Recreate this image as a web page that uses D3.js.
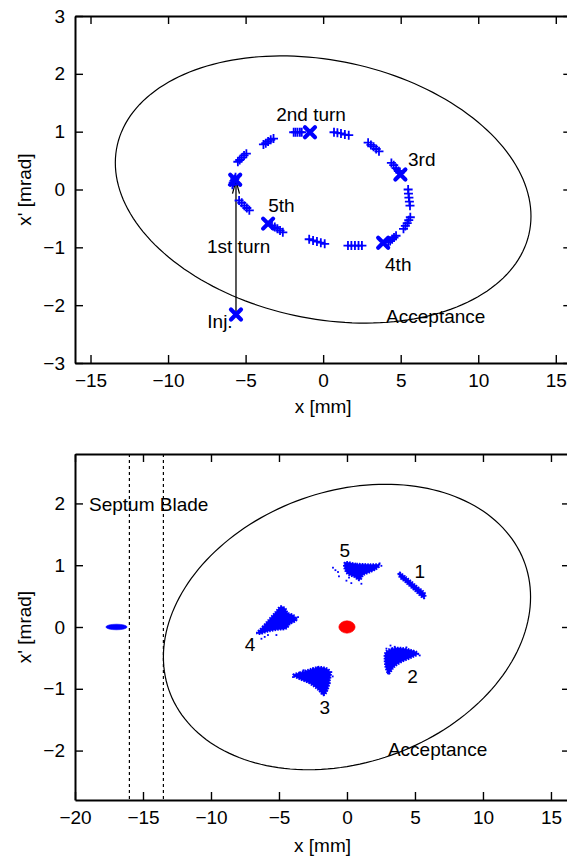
<!DOCTYPE html>
<html>
<head>
<meta charset="utf-8">
<script src="https://cdn.jsdelivr.net/npm/d3@7/dist/d3.min.js"></script>
<style>
  body { margin: 0; background: #fff; }
  svg { display: block; }
  text { font-family: "Liberation Sans", Arial, Helvetica, sans-serif; font-size: 19px; fill: #000; }
</style>
</head>
<body>
<svg id="chart" width="567" height="858"></svg>
<script>
// ---------- upper panel: beam centroid in phase space, injection and first turns ----------
const topXTicks = [-15, -10, -5, 0, 5, 10, 15];
const topYTicks = [-3, -2, -1, 0, 1, 2, 3];

// centroid at injection and at each turn (x in mm, x' in mrad)
const turnNames = ["Inj.", "1st turn", "2nd turn", "3rd", "4th", "5th"];
const turnX  = [-5.62, -5.67, -0.85, 4.98, 3.87, -3.55];
const turnXp = [-2.16,  0.17,  0.99, 0.26, -0.92, -0.59];
const turnLabelX  = [-7.47, -7.49, -3.03, 5.47, 3.99, -3.54];
const turnLabelXp = [-2.40, -1.10,  1.19, 0.40, -1.41, -0.39];

// intermediate centroid positions along the turns (+ markers)
const trackX = [
  -5.50, -5.38, -5.25, -5.10, -4.95,
  -3.85, -3.70, -3.55, -3.38, -3.20,
  -1.90, -1.78, -1.65, -1.50, -1.38,
   0.70,  0.92,  1.15,  1.40,  1.65,
   2.90,  3.08,  3.25,  3.42,  3.60,
   4.40,  4.55,  4.70,  4.85,  4.95,
   5.48,  5.50,  5.53,  5.56,  5.60,
   5.62,  5.52,  5.42,  5.30,  5.18,
   4.70,  4.57,  4.45,  4.32,  4.20,
   1.60,  1.82,  2.05,  2.28,  2.50,
  -0.90, -0.65, -0.40, -0.15,  0.10,
  -3.30, -3.12, -2.95, -2.78, -2.60,
  -5.42, -5.25, -5.08, -4.92, -4.76,
  -5.85, -5.80, -5.75, -5.70, -5.65
];
const trackXp = [
   0.48,  0.51,  0.55,  0.59,  0.62,
   0.78,  0.80,  0.83,  0.86,  0.88,
   0.99,  0.99,  0.99,  0.99,  0.99,
   0.99,  0.98,  0.97,  0.95,  0.94,
   0.81,  0.77,  0.74,  0.70,  0.66,
   0.46,  0.42,  0.37,  0.32,  0.29,
   0.00, -0.07, -0.14, -0.21, -0.28,
  -0.48, -0.53, -0.58, -0.63, -0.68,
  -0.80, -0.83, -0.86, -0.89, -0.91,
  -0.97, -0.97, -0.97, -0.97, -0.97,
  -0.86, -0.88, -0.90, -0.92, -0.94,
  -0.62, -0.65, -0.68, -0.71, -0.74,
  -0.19, -0.23, -0.28, -0.32, -0.36,
   0.08,  0.12,  0.15,  0.18,  0.21
];

// acceptance ellipse: [x half-width, x' half-height, x-x' correlation]
const accTop = [13.4, 2.31, -0.2];
const accTopLabel = [4.06, -2.30];

// ---------- lower panel: particle distributions of turns 1-5 ----------
const botXTicks = [-20, -15, -10, -5, 0, 5, 10, 15];
const botYTicks = [-2, -1, 0, 1, 2];
const accBot = [13.5, 2.31, 0.21];
const accBotLabel = [3.01, -2.09];
const septumEdges = [-16, -13.5];
const septumLabel = [-18.97, 1.88];

// injected bunch (left of the septum) and stored beam (red): [cx, cy, rx, ry]
const injectedBunch = [-16.95, 0.0, 0.78, 0.045];
const storedBeam    = [0.0, 0.0, 0.6, 0.1];

// outlines of the turn-by-turn distributions
const turn1Shape = [[3.82,0.88],[4.3,0.81],[5.0,0.68],[5.74,0.53],[5.68,0.47],[5.0,0.59],[4.3,0.73],[3.88,0.81]];
const turn2Shape = [[2.85,-0.41],[3.29,-0.35],[3.88,-0.34],[4.61,-0.37],[5.22,-0.43],[4.76,-0.49],[4.02,-0.56],[3.43,-0.65],[3.07,-0.75],[2.88,-0.67],[2.80,-0.54]];
const turn3Shape = [[-3.95,-0.78],[-3.48,-0.74],[-2.74,-0.69],[-2.05,-0.65],[-1.45,-0.68],[-1.22,-0.74],[-1.28,-0.86],[-1.42,-1.00],[-1.70,-1.10],[-2.12,-1.01],[-2.74,-0.91],[-3.48,-0.84]];
const turn4Shape = [[-6.60,-0.10],[-6.20,0.00],[-5.68,0.13],[-5.24,0.24],[-4.87,0.33],[-4.55,0.30],[-4.38,0.23],[-3.88,0.18],[-3.74,0.11],[-4.21,0.05],[-4.45,-0.02],[-5.10,-0.04],[-5.83,-0.07],[-6.40,-0.11]];
const turn5Shape = [[-0.15,1.04],[0.69,1.02],[1.67,1.01],[2.38,1.00],[2.14,0.94],[1.67,0.89],[1.18,0.84],[0.93,0.76],[0.57,0.81],[0.07,0.86],[-0.15,0.94]];

// scattered particles at the edges of the distributions
const haloX  = [-1.03,-0.66,-0.59,-0.04,0.32,1.06,2.53,2.40,-0.85,0.15, -6.29,-5.19,-3.97,-3.72,-4.34,-5.81,-6.05,-3.60, -3.97,-2.13,-1.27,-1.15,-1.76,-2.50,-1.05,-3.20, 2.90,3.51,4.37,3.01,5.35,3.20,4.90];
const haloXp = [0.96,0.89,0.82,0.75,0.71,0.70,0.99,1.03,0.92,0.80, -0.19,-0.13,0.14,0.135,0.05,-0.13,-0.16,0.16, -0.81,-0.65,-0.91,-0.73,-1.07,-0.67,-0.80,-0.70, -0.35,-0.32,-0.33,-0.75,-0.46,-0.30,-0.40];

const turnNumbers = ["1", "2", "3", "4", "5"];
const turnNumberX  = [5.35, 4.83, -1.64, -7.12, -0.17];
const turnNumberXp = [0.785, -0.90, -1.40, -0.39, 1.13];

// ---------------------------------------------------------------
const svg = d3.select("#chart");
const BLUE = "#0000ff";

function makePanel(opts) {
  const { left, right, top, bottom, xDomain, yDomain, xTicks, yTicks, id } = opts;
  const x = d3.scaleLinear().domain(xDomain).range([left, right]);
  const y = d3.scaleLinear().domain(yDomain).range([bottom, top]);

  svg.append("clipPath").attr("id", id)
    .append("rect").attr("x", left).attr("y", top)
    .attr("width", right - left).attr("height", bottom - top);

  const styleAxis = g => {
    g.select(".domain").attr("stroke", "#000").attr("stroke-width", 2);
    g.selectAll(".tick line").attr("stroke", "#000").attr("stroke-width", 1.4);
    g.selectAll(".tick text")
      .attr("font-family", '"Liberation Sans", Arial, Helvetica, sans-serif')
      .attr("font-size", 19).attr("fill", "#000");
  };

  svg.append("g").attr("transform", `translate(0,${bottom})`)
    .call(d3.axisBottom(x).tickValues(xTicks).tickSize(-8).tickSizeOuter(0).tickPadding(11).tickFormat(d3.format("d")))
    .call(styleAxis);
  svg.append("g").attr("transform", `translate(0,${top})`)
    .call(d3.axisTop(x).tickValues(xTicks).tickSize(-8).tickSizeOuter(0).tickFormat(""))
    .call(styleAxis);
  svg.append("g").attr("transform", `translate(${left},0)`)
    .call(d3.axisLeft(y).tickValues(yTicks).tickSize(-8).tickSizeOuter(0).tickPadding(10).tickFormat(d3.format("d")))
    .call(styleAxis);
  svg.append("g").attr("transform", `translate(${right},0)`)
    .call(d3.axisRight(y).tickValues(yTicks).tickSize(-8).tickSizeOuter(0).tickFormat(""))
    .call(styleAxis);

  // axis titles
  svg.append("text").attr("x", (left + right) / 2).attr("y", opts.xTitleY)
    .attr("text-anchor", "middle").text("x [mm]");
  svg.append("text")
    .attr("transform", `translate(31,${(top + bottom) / 2}) rotate(-90)`)
    .attr("text-anchor", "middle").text("x' [mrad]");

  const plot = svg.append("g").attr("clip-path", `url(#${id})`);
  return { x, y, plot };
}

function drawAcceptance(panel, acc) {
  const [a, b, c] = acc;
  const phi = Math.acos(c);
  const pts = d3.range(0, 361, 2).map(deg => {
    const t = deg * Math.PI / 180;
    return [a * Math.cos(t), b * Math.cos(t + phi)];
  });
  panel.plot.append("path")
    .attr("d", d3.line().x(d => panel.x(d[0])).y(d => panel.y(d[1]))(pts))
    .attr("fill", "none").attr("stroke", "#000").attr("stroke-width", 1.2);
}

// ---------- upper panel ----------
const P1 = makePanel({
  id: "clipTop", left: 75, right: 571.3, top: 16, bottom: 363,
  xDomain: [-16, 16], yDomain: [-3, 3], xTicks: topXTicks, yTicks: topYTicks, xTitleY: 413
});
drawAcceptance(P1, accTop);

// injection kick arrow from the injection point to the first turn
{
  const x0 = P1.x(turnX[0]), y0 = P1.y(turnXp[0]);
  const y1 = P1.y(turnXp[1]) + 1;
  const g = P1.plot.append("g").attr("stroke", "#000").attr("stroke-width", 1.3).attr("fill", "none");
  g.append("line").attr("x1", x0).attr("y1", y0).attr("x2", x0).attr("y2", y1);
  g.append("path").attr("d", `M${x0 - 3.5},${y1 + 13}L${x0},${y1}L${x0 + 3.5},${y1 + 13}`);
}

// + markers of intermediate positions
P1.plot.append("g").selectAll("path").data(d3.range(trackX.length)).join("path")
  .attr("transform", i => `translate(${P1.x(trackX[i])},${P1.y(trackXp[i])})`)
  .attr("d", "M-4.5,0H4.5M0,-4.5V4.5")
  .attr("stroke", BLUE).attr("stroke-width", 1.8).attr("fill", "none");

// x markers at injection and at each turn
P1.plot.append("g").selectAll("path").data(d3.range(turnX.length)).join("path")
  .attr("transform", i => `translate(${P1.x(turnX[i])},${P1.y(turnXp[i])})`)
  .attr("d", "M-5,-5L5,5M-5,5L5,-5")
  .attr("stroke", BLUE).attr("stroke-width", 4.2).attr("stroke-linecap", "round").attr("fill", "none");

svg.append("g").selectAll("text").data(turnNames).join("text")
  .attr("x", (d, i) => P1.x(turnLabelX[i])).attr("y", (d, i) => P1.y(turnLabelXp[i]))
  .text(d => d);
svg.append("text").attr("x", P1.x(accTopLabel[0])).attr("y", P1.y(accTopLabel[1])).text("Acceptance");

// ---------- lower panel ----------
const P2 = makePanel({
  id: "clipBot", left: 75, right: 570, top: 454, bottom: 800,
  xDomain: [-20, 16.4], yDomain: [-2.8, 2.8], xTicks: botXTicks, yTicks: botYTicks, xTitleY: 852
});
drawAcceptance(P2, accBot);

// septum blade edges
P2.plot.append("g").selectAll("line").data(septumEdges).join("line")
  .attr("x1", d => P2.x(d)).attr("x2", d => P2.x(d))
  .attr("y1", P2.y(2.8)).attr("y2", P2.y(-2.8))
  .attr("stroke", "#000").attr("stroke-width", 1.2).attr("stroke-dasharray", "3,3");

// injected bunch and stored beam
const ell = (e, color) => P2.plot.append("ellipse")
  .attr("cx", P2.x(e[0])).attr("cy", P2.y(e[1]))
  .attr("rx", P2.x(e[0] + e[2]) - P2.x(e[0])).attr("ry", P2.y(e[1]) - P2.y(e[1] + e[3]))
  .attr("fill", color).attr("stroke", color).attr("stroke-width", 0.6);
ell(injectedBunch, BLUE);
ell(storedBeam, "#ff0000");

// turn-by-turn distributions: dense core with a speckled rim
const shapeLine = d3.line().x(d => P2.x(d[0])).y(d => P2.y(d[1])).curve(d3.curveCatmullRomClosed.alpha(0.5));
const shapes = [turn1Shape, turn2Shape, turn3Shape, turn4Shape, turn5Shape];
P2.plot.append("g").selectAll("path").data(shapes).join("path")
  .attr("d", shapeLine)
  .attr("fill", "none").attr("stroke", BLUE).attr("stroke-width", 2.6)
  .attr("stroke-dasharray", "1.5,1.2");
P2.plot.append("g").selectAll("path").data(shapes).join("path")
  .attr("d", shapeLine)
  .attr("fill", BLUE).attr("stroke", BLUE).attr("stroke-width", 0.6);

P2.plot.append("g").selectAll("rect").data(d3.range(haloX.length)).join("rect")
  .attr("x", i => P2.x(haloX[i]) - 0.9).attr("y", i => P2.y(haloXp[i]) - 0.9)
  .attr("width", 1.8).attr("height", 1.8).attr("fill", BLUE);

svg.append("g").selectAll("text").data(turnNumbers).join("text")
  .attr("x", (d, i) => P2.x(turnNumberX[i])).attr("y", (d, i) => P2.y(turnNumberXp[i]))
  .attr("text-anchor", "middle").text(d => d);
svg.append("text").attr("x", P2.x(septumLabel[0])).attr("y", P2.y(septumLabel[1])).text("Septum Blade");
svg.append("text").attr("x", P2.x(accBotLabel[0])).attr("y", P2.y(accBotLabel[1])).text("Acceptance");
</script>
</body>
</html>
